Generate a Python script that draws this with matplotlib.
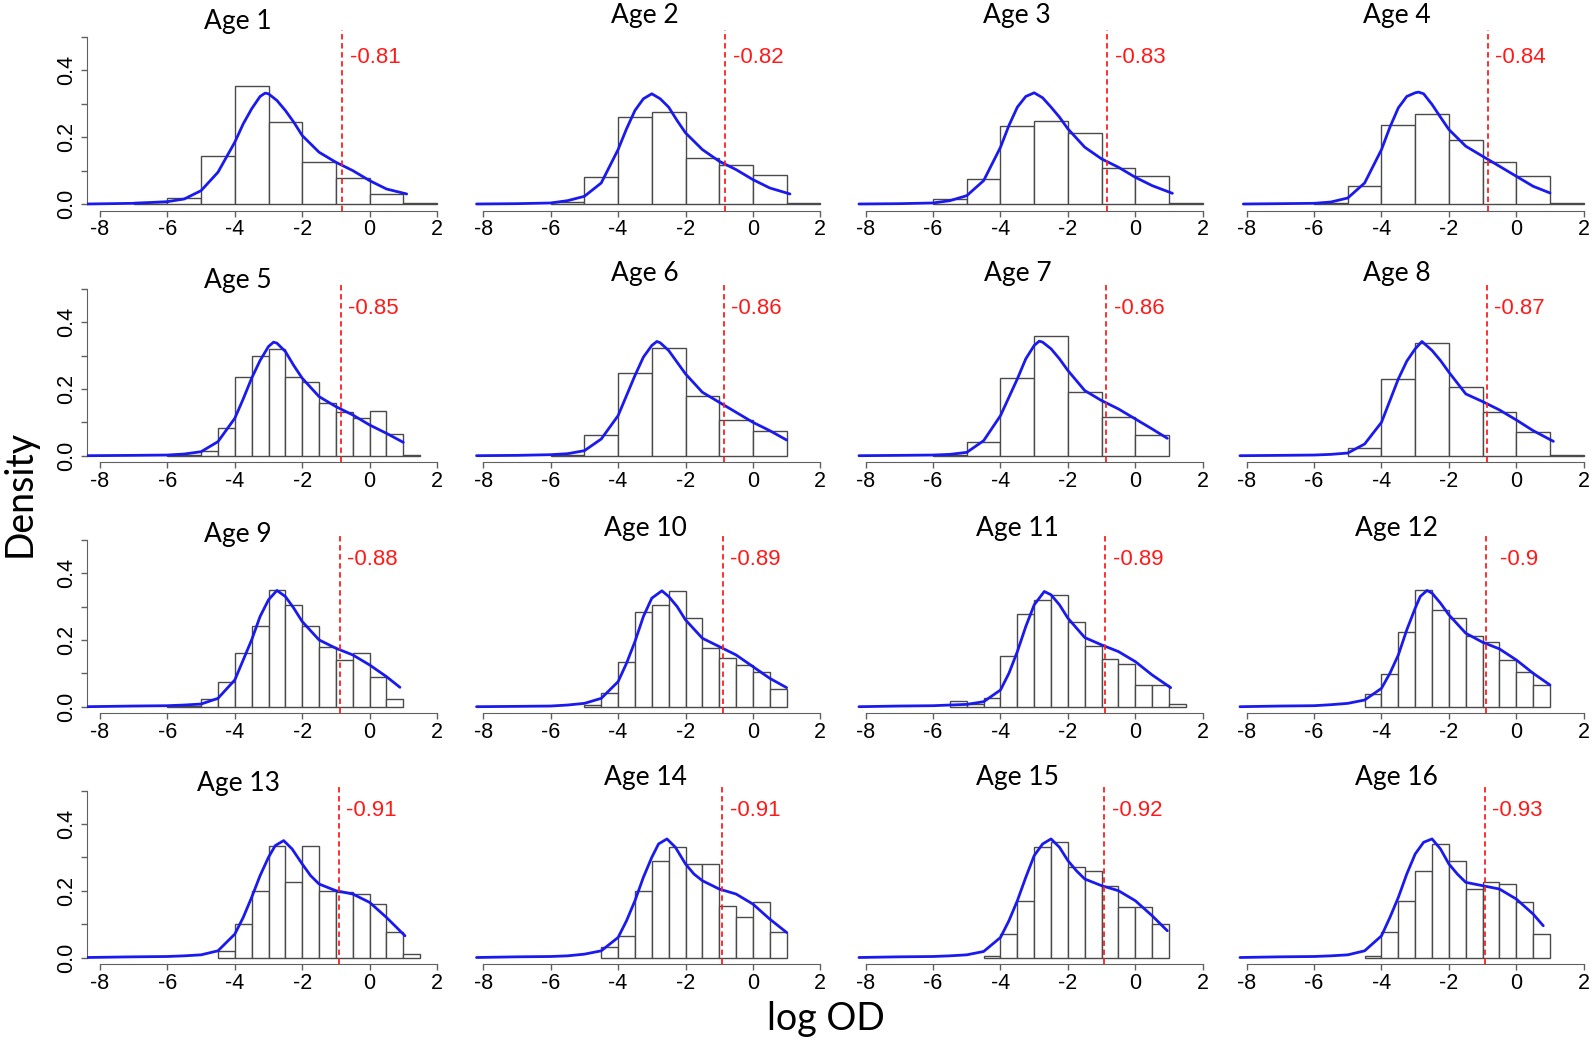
import numpy as np
import matplotlib
matplotlib.use("Agg")
import matplotlib.pyplot as plt

# ---- data ----
ages = list(range(1, 17))
cutoffs = [-0.81, -0.82, -0.83, -0.84, -0.85, -0.86, -0.86, -0.87,
           -0.88, -0.89, -0.89, -0.9, -0.91, -0.91, -0.92, -0.93]

bin_start = [-7, -6, -6, -6, -6, -6, -6, -5, -6, -5, -5.5, -4.5, -4.5, -4.5, -4.5, -4.5]
bin_width = [1, 1, 1, 1, 0.5, 1, 1, 1, 0.5, 0.5, 0.5, 0.5, 0.5, 0.5, 0.5, 0.5]
hist_h = [
    [0.006, 0.017, 0.143, 0.353, 0.247, 0.125, 0.077, 0.03, 0.003],
    [0.005, 0.08, 0.26, 0.275, 0.138, 0.118, 0.087, 0.003],
    [0.015, 0.075, 0.235, 0.25, 0.213, 0.107, 0.083, 0.003],
    [0.003, 0.055, 0.238, 0.27, 0.193, 0.126, 0.084, 0.003],
    [0.002, 0.002, 0.014, 0.084, 0.236, 0.3, 0.32, 0.237, 0.22, 0.158, 0.132, 0.112, 0.134, 0.065, 0.003],
    [0.003, 0.063, 0.248, 0.322, 0.18, 0.107, 0.073],
    [0.002, 0.042, 0.234, 0.359, 0.19, 0.115, 0.062],
    [0.023, 0.23, 0.338, 0.207, 0.13, 0.07, 0.003],
    [0.003, 0.003, 0.022, 0.075, 0.16, 0.243, 0.349, 0.305, 0.243, 0.18, 0.14, 0.16, 0.09, 0.022],
    [0.005, 0.04, 0.133, 0.285, 0.303, 0.347, 0.265, 0.175, 0.145, 0.125, 0.105, 0.053],
    [0.017, 0.007, 0.025, 0.152, 0.277, 0.318, 0.333, 0.255, 0.183, 0.143, 0.127, 0.065, 0.065, 0.008],
    [0.037, 0.098, 0.223, 0.35, 0.29, 0.267, 0.212, 0.193, 0.139, 0.103, 0.065],
    [0.02, 0.1, 0.2, 0.335, 0.225, 0.335, 0.2, 0.195, 0.19, 0.16, 0.075, 0.01],
    [0.03, 0.065, 0.2, 0.29, 0.33, 0.28, 0.28, 0.155, 0.12, 0.165, 0.075],
    [0.005, 0.07, 0.17, 0.33, 0.345, 0.27, 0.26, 0.215, 0.15, 0.15, 0.1],
    [0.005, 0.075, 0.17, 0.26, 0.34, 0.29, 0.205, 0.225, 0.22, 0.165, 0.07],
]

kde_x = [
    [-8.4, -7, -6, -5.5, -5, -4.5, -4, -3.75, -3.5, -3.25, -3.1, -3, -2.75, -2.5, -2.25, -2, -1.5, -1, -0.5, 0, 0.5, 1.1],
    [-8.2, -7, -6, -5.5, -5, -4.5, -4, -3.75, -3.5, -3.25, -3, -2.75, -2.5, -2.25, -2, -1.5, -1, -0.5, 0, 0.5, 1.1],
    [-8.2, -7, -6, -5.5, -5, -4.5, -4, -3.75, -3.5, -3.25, -3, -2.75, -2.5, -2.25, -2, -1.5, -1, -0.5, 0, 0.5, 1.1],
    [-8.1, -7, -6, -5.5, -5, -4.5, -4, -3.75, -3.5, -3.25, -3, -2.9, -2.75, -2.5, -2.25, -2, -1.5, -1, -0.5, 0, 0.5, 1.0],
    [-8.4, -7, -6, -5.5, -5, -4.5, -4, -3.75, -3.5, -3.25, -3, -2.85, -2.75, -2.5, -2.25, -2, -1.5, -1, -0.5, 0, 0.5, 1.0],
    [-8.2, -7, -6, -5.5, -5, -4.5, -4, -3.75, -3.5, -3.25, -3, -2.85, -2.75, -2.5, -2.25, -2, -1.5, -1, -0.5, 0, 0.5, 1.0],
    [-8.2, -7, -6, -5.5, -5, -4.5, -4, -3.75, -3.5, -3.25, -3, -2.85, -2.75, -2.5, -2.25, -2, -1.5, -1, -0.5, 0, 0.5, 0.95],
    [-8.2, -7, -6, -5.5, -5, -4.5, -4, -3.75, -3.5, -3.25, -3, -2.8, -2.5, -2.25, -2, -1.5, -1, -0.5, 0, 0.5, 1.1],
    [-8.4, -7, -6, -5.5, -5, -4.5, -4, -3.75, -3.5, -3.25, -3, -2.75, -2.5, -2.25, -2, -1.5, -1, -0.5, 0, 0.5, 0.9],
    [-8.2, -7, -6, -5.5, -5, -4.5, -4, -3.75, -3.5, -3.25, -3, -2.7, -2.5, -2.25, -2, -1.5, -1, -0.5, 0, 0.5, 1.0],
    [-8.2, -7, -6, -5.5, -5, -4.5, -4, -3.75, -3.5, -3.25, -3, -2.7, -2.5, -2.25, -2, -1.5, -1, -0.5, 0, 0.5, 1.05],
    [-8.2, -7, -6, -5.5, -5, -4.5, -4, -3.75, -3.5, -3.25, -3, -2.85, -2.65, -2.5, -2.25, -2, -1.5, -1, -0.5, 0, 0.5, 1.0],
    [-8.4, -7, -6, -5.5, -5, -4.5, -4, -3.75, -3.5, -3.25, -3, -2.8, -2.55, -2.3, -2, -1.75, -1.5, -1, -0.5, 0, 0.5, 1.05],
    [-8.2, -7, -6, -5.5, -5, -4.5, -4, -3.75, -3.5, -3.25, -3, -2.8, -2.55, -2.3, -2, -1.75, -1.5, -1, -0.5, 0, 0.5, 1.0],
    [-8.2, -7, -6, -5.5, -5, -4.5, -4, -3.75, -3.5, -3.25, -3, -2.75, -2.5, -2.25, -2, -1.75, -1.5, -1, -0.5, 0, 0.5, 0.95],
    [-8.2, -7, -6, -5.5, -5, -4.5, -4, -3.75, -3.5, -3.25, -3, -2.75, -2.5, -2.25, -2, -1.75, -1.5, -1, -0.5, 0, 0.5, 0.8],
]
kde_y = [
    [0, 0.002, 0.007, 0.015, 0.04, 0.095, 0.185, 0.24, 0.285, 0.322, 0.332, 0.33, 0.31, 0.28, 0.245, 0.205, 0.155, 0.125, 0.10, 0.07, 0.045, 0.03],
    [0, 0.001, 0.003, 0.01, 0.023, 0.063, 0.163, 0.225, 0.28, 0.315, 0.33, 0.315, 0.29, 0.25, 0.213, 0.163, 0.128, 0.103, 0.073, 0.048, 0.03],
    [0, 0.001, 0.003, 0.01, 0.025, 0.07, 0.17, 0.235, 0.29, 0.322, 0.333, 0.318, 0.29, 0.26, 0.225, 0.17, 0.135, 0.11, 0.08, 0.055, 0.032],
    [0, 0.001, 0.002, 0.006, 0.018, 0.063, 0.163, 0.23, 0.288, 0.322, 0.333, 0.335, 0.33, 0.298, 0.26, 0.223, 0.173, 0.143, 0.113, 0.083, 0.053, 0.033],
    [0, 0.001, 0.002, 0.005, 0.012, 0.042, 0.112, 0.17, 0.232, 0.285, 0.327, 0.34, 0.337, 0.312, 0.27, 0.232, 0.177, 0.147, 0.122, 0.092, 0.067, 0.04],
    [0, 0.001, 0.003, 0.006, 0.015, 0.05, 0.12, 0.18, 0.24, 0.295, 0.33, 0.342, 0.338, 0.315, 0.28, 0.245, 0.19, 0.16, 0.13, 0.1, 0.075, 0.047],
    [0, 0.001, 0.002, 0.004, 0.01, 0.045, 0.12, 0.175, 0.23, 0.29, 0.33, 0.343, 0.34, 0.32, 0.29, 0.255, 0.195, 0.165, 0.14, 0.11, 0.08, 0.052],
    [0, 0.001, 0.002, 0.004, 0.008, 0.035, 0.1, 0.165, 0.23, 0.283, 0.32, 0.342, 0.315, 0.285, 0.25, 0.185, 0.162, 0.137, 0.107, 0.075, 0.043],
    [0, 0.002, 0.003, 0.005, 0.008, 0.025, 0.08, 0.14, 0.2, 0.27, 0.32, 0.348, 0.33, 0.295, 0.255, 0.2, 0.175, 0.155, 0.125, 0.09, 0.058],
    [0, 0.001, 0.002, 0.005, 0.01, 0.025, 0.075, 0.13, 0.195, 0.27, 0.325, 0.347, 0.33, 0.3, 0.26, 0.205, 0.18, 0.155, 0.12, 0.085, 0.057],
    [0, 0.002, 0.003, 0.005, 0.007, 0.015, 0.05, 0.1, 0.165, 0.24, 0.305, 0.345, 0.335, 0.305, 0.265, 0.207, 0.185, 0.165, 0.135, 0.095, 0.057],
    [0, 0.002, 0.003, 0.006, 0.01, 0.02, 0.055, 0.1, 0.155, 0.23, 0.295, 0.33, 0.348, 0.34, 0.31, 0.275, 0.22, 0.193, 0.173, 0.14, 0.1, 0.065],
    [0, 0.002, 0.003, 0.005, 0.008, 0.02, 0.07, 0.12, 0.18, 0.245, 0.3, 0.335, 0.35, 0.325, 0.28, 0.245, 0.22, 0.2, 0.19, 0.165, 0.12, 0.065],
    [0, 0.002, 0.003, 0.005, 0.01, 0.02, 0.06, 0.11, 0.17, 0.24, 0.3, 0.34, 0.355, 0.33, 0.28, 0.25, 0.23, 0.205, 0.19, 0.16, 0.115, 0.075],
    [0, 0.002, 0.003, 0.005, 0.008, 0.018, 0.06, 0.11, 0.17, 0.24, 0.305, 0.34, 0.355, 0.33, 0.29, 0.26, 0.235, 0.215, 0.2, 0.17, 0.125, 0.08],
    [0, 0.002, 0.003, 0.005, 0.008, 0.02, 0.065, 0.12, 0.18, 0.25, 0.31, 0.345, 0.355, 0.325, 0.28, 0.25, 0.225, 0.215, 0.205, 0.175, 0.13, 0.095],
]

# ---- layout (pixels of the 1593x1044 figure) ----
W, H = 1593, 1044
col_left = [86.5, 469.8, 852.2, 1233.2]
row_base = [204, 455.7, 706.7, 957.5]
ax_w, unit_y = 364, 334
title_x = [-3.9, -3.2, -3.5, -3.55]
title_y = [0.545, 0.525, 0.515, 0.52]

plt.rcParams['font.family'] = ['Liberation Sans', 'DejaVu Sans']
plt.rcParams['axes.unicode_minus'] = False
fig = plt.figure(figsize=(W / 100, H / 100), dpi=100)
axis_grey = '#606060'

for i, age in enumerate(ages):
    r, c = divmod(i, 4)
    bottom_px = row_base[r] + 0.02 * unit_y
    ax = fig.add_axes([col_left[c] / W, 1 - bottom_px / H,
                       ax_w / W, 0.54 * unit_y / H])
    ax.set_xlim(-8.4, 2.4)
    ax.set_ylim(-0.02, 0.52)
    ax.patch.set_alpha(0)

    h = np.array(hist_h[i])
    lefts = bin_start[i] + bin_width[i] * np.arange(len(h))
    ax.bar(lefts, h, width=bin_width[i], align='edge', color='white',
           edgecolor='#4a4a4a', linewidth=1.0, zorder=1)
    ax.plot(kde_x[i], kde_y[i], color='#1a1aee', lw=2.0, zorder=3,
            solid_joinstyle='round', solid_capstyle='round')
    ax.axvline(cutoffs[i], color='#ff2020', ls=(0, (3, 2)), lw=1.3, zorder=4)
    ax.text(cutoffs[i] + 0.97, 0.44, f"{cutoffs[i]:g}", color='#ff1a1a',
            fontsize=16, ha='center', va='center')
    dy = 0.0
    if c > 0:
        dy = 0.018 if r == 0 else 0.02
    ax.text(title_x[c], title_y[r] + dy, f"Age {age}",
            fontsize=19, family='Lato', ha='center', va='center', clip_on=False)

    for s in ['top', 'right']:
        ax.spines[s].set_visible(False)
    ax.spines['bottom'].set_bounds(-8, 2)
    ax.spines['bottom'].set_color(axis_grey)
    ax.set_xticks(np.arange(-8, 3, 2))
    ax.tick_params(axis='x', length=4, width=1, color=axis_grey, pad=2, labelsize=15.5)
    if c == 0:
        ax.spines['left'].set_bounds(0, 0.5)
        ax.spines['left'].set_color(axis_grey)
        ax.set_yticks(np.arange(0, 0.51, 0.1))
        ax.set_yticklabels(['0.0', '', '0.2', '', '0.4', ''], rotation=90, va='center')
        ax.tick_params(axis='y', length=4, width=1, color=axis_grey, pad=3, labelsize=15.5)
    else:
        ax.spines['left'].set_visible(False)
        ax.set_yticks([])

fig.text(20 / W, 1 - 493 / H, 'Density', rotation=90, fontsize=27,
         family='Lato', ha='center', va='center')
fig.text(826 / W, 1 - 1019 / H, 'log OD', fontsize=27,
         family='Lato', ha='center', va='center')

fig.savefig('out.png', dpi=100)
